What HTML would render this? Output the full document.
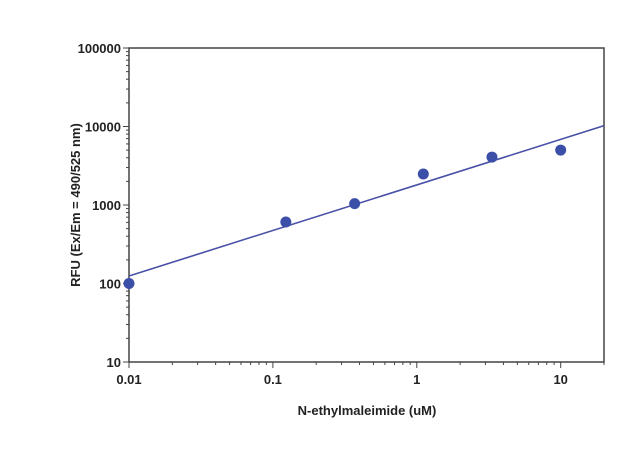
<!DOCTYPE html>
<html><head><meta charset="utf-8"><style>
body{margin:0;background:#fff;}
svg{display:block;font-family:"Liberation Sans",Arial,sans-serif;}
</style></head><body>
<svg id="chart" width="640" height="455">
<g id="axes"></g><g id="marks"></g>
<text x="367" y="415" text-anchor="middle" font-size="13" font-weight="bold" fill="#222">N-ethylmaleimide (uM)</text>
<text transform="translate(80,205) rotate(-90)" text-anchor="middle" font-size="13" font-weight="bold" fill="#222">RFU (Ex/Em = 490/525 nm)</text>
</svg>
<script>
const xValues=[0.01,0.123,0.37,1.11,3.33,10];
const yValues=[100,607,1040,2480,4080,5010];
const fitSlope=0.58;
const fitAtOne=1803;
const xTicks=[0.01,0.1,1,10];
const xTickLabels=["0.01","0.1","1","10"];
const yTicks=[10,100,1000,10000,100000];
const yTickLabels=["10","100","1000","10000","100000"];
const X0=129,X1=604,Y0=362,Y1=48;
const xmin=Math.log10(0.01),xmax=Math.log10(20),ymin=1,ymax=5;
function sx(v){return X0+(Math.log10(v)-xmin)/(xmax-xmin)*(X1-X0);}
function sy(v){return Y0-(Math.log10(v)-ymin)/(ymax-ymin)*(Y0-Y1);}
const NS="http://www.w3.org/2000/svg";
const axes=document.getElementById('axes'),marks=document.getElementById('marks');
function mk(p,t,a){const e=document.createElementNS(NS,t);for(const k in a)e.setAttribute(k,a[k]);p.appendChild(e);return e;}
const frame=mk(axes,'rect',{x:X0,y:Y1,width:X1-X0,height:Y0-Y1,fill:'none',stroke:'#444','stroke-width':1.5});


for(let d=-2;d<=1;d++){for(let m=1;m<10;m++){const v=m*Math.pow(10,d);if(v>20)break;const x=sx(v);
const t=mk(axes,'line',{x1:x,x2:x,y1:Y0,y2:Y0+(m==1?6:3),stroke:'#444','stroke-width':1});

}}
for(let d=1;d<5;d++){for(let m=1;m<=10;m++){const v=m*Math.pow(10,d);const y=sy(v);
const t=mk(axes,'line',{x1:X0,x2:X0-(m==1||m==10?6:3),y1:y,y2:y,stroke:'#444','stroke-width':1});

}}
xTicks.forEach((v,i)=>{const t=mk(axes,'text',{x:sx(v),y:Y0+22,'text-anchor':'middle','font-size':13,'font-weight':'bold',fill:'#222'});t.textContent=xTickLabels[i];

});
yTicks.forEach((v,i)=>{const t=mk(axes,'text',{x:X0-8,y:sy(v)+5,'text-anchor':'end','font-size':13,'font-weight':'bold',fill:'#222'});t.textContent=yTickLabels[i];

});
function fit(x){return fitAtOne*Math.pow(x,fitSlope);}
const ln=mk(marks,'line',{x1:sx(0.01),y1:sy(fit(0.01)),x2:sx(20),y2:sy(fit(20)),stroke:'#4a52a8','stroke-width':1.6});


xValues.forEach((v,i)=>{const c=mk(marks,'circle',{cx:sx(v),cy:sy(yValues[i]),r:5.5,fill:'#3b4fa8'});

});
</script>
</body></html>
